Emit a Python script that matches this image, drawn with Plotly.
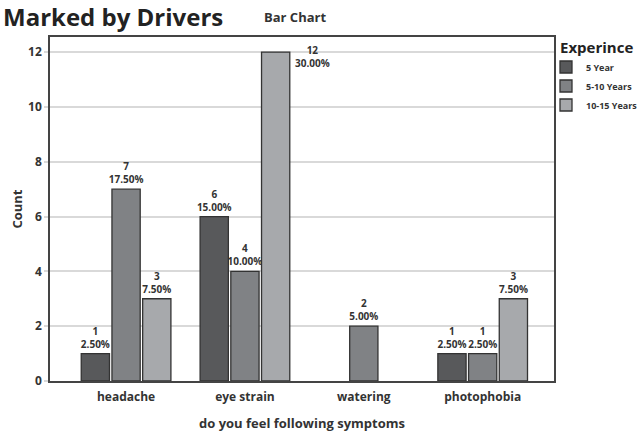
import plotly.graph_objects as go

categories = ["headache", "eye strain", "watering", "photophobia"]
series_names = ["5 Year", "5-10 Years", "10-15 Years"]
counts_5 = [1, 6, None, 1]
counts_5_10 = [7, 4, 2, 1]
counts_10_15 = [3, 12, None, 3]
pct_5 = ["2.50%", "15.00%", None, "2.50%"]
pct_5_10 = ["17.50%", "10.00%", "5.00%", "2.50%"]
pct_10_15 = ["7.50%", "30.00%", None, "7.50%"]
y_ticks = [0, 2, 4, 6, 8, 10, 12]

colors = ["#58595b", "#808285", "#a7a9ac"]
FONT = "Open Sans"

all_counts = [counts_5, counts_5_10, counts_10_15]
all_pcts = [pct_5, pct_5_10, pct_10_15]

fig = go.Figure()
annotations = []
for name, cnts, pcts, col in zip(series_names, all_counts, all_pcts, colors):
    texts = []
    for c, p, cat in zip(cnts, pcts, categories):
        if c is None:
            texts.append("")
        elif c > 11:
            texts.append("")
            annotations.append(dict(
                xref="x", yref="y", x=cat, y=c, xshift=48, yshift=-4,
                xanchor="left", yanchor="middle", showarrow=False,
                text=f"{c}<br>{p}", align="center",
                font=dict(family=FONT, size=10, color="#333333", weight="bold")))
        else:
            texts.append(f"{c}<br>{p}")
    fig.add_trace(go.Bar(
        name=name, x=categories, y=cnts, text=texts,
        textposition="outside", constraintext="none", cliponaxis=False,
        textfont=dict(family=FONT, size=10, color="#333333", weight="bold"),
        marker=dict(color=col, line=dict(color="#333333", width=1.3)),
    ))

annotations += [
    dict(xref="paper", yref="paper", x=-49/504, y=1 + 21/344, xanchor="left", yanchor="middle",
         text="Marked by Drivers", showarrow=False,
         font=dict(family=FONT, size=24, color="#222222", weight="bold")),
    dict(xref="paper", yref="paper", x=(262-50)/504, y=1 + 20/344, xanchor="left", yanchor="middle",
         text="Bar Chart", showarrow=False,
         font=dict(family=FONT, size=13, color="#333333", weight="bold")),
]

fig.update_layout(
    width=641, height=434,
    margin=dict(l=50, r=87, t=37, b=53, autoexpand=False),
    paper_bgcolor="white", plot_bgcolor="white",
    barmode="group", bargap=0.225, bargroupgap=0.08,
    showlegend=True,
    legend=dict(
        xref="container", yref="container",
        x=558/641, y=1 - 33/434, xanchor="left", yanchor="top",
        title=dict(text="Experince", font=dict(family=FONT, size=15, color="#222222", weight="bold")),
        font=dict(family=FONT, size=9, color="#333333", weight="bold"),
        bgcolor="rgba(0,0,0,0)", tracegroupgap=0, itemwidth=30, indentation=-12,
    ),
    annotations=annotations,
    xaxis=dict(
        range=[-0.64, 3.6], showgrid=False, showline=True, linecolor="#444444", linewidth=2,
        mirror=True, ticks="", automargin=False, ticklabelstandoff=4,
        tickfont=dict(family=FONT, size=12, color="#333333", weight="bold"),
        title=dict(text="do you feel following symptoms", standoff=14,
                   font=dict(family=FONT, size=13, color="#333333", weight="bold")),
    ),
    yaxis=dict(
        range=[0, 12.55], tickvals=y_ticks, showgrid=True, gridcolor="#d9d9d9", gridwidth=1.5,
        showline=True, linecolor="#444444", linewidth=1.5, mirror=True, automargin=False,
        ticks="outside", ticklen=4, tickcolor="#d9d9d9", tickwidth=1.5, zeroline=False,
        tickfont=dict(family=FONT, size=12, color="#333333", weight="bold"),
        title=dict(text="Count", standoff=3,
                   font=dict(family=FONT, size=13, color="#333333", weight="bold")),
    ),
)

fig.write_html("out.html", config={"displayModeBar": False},
               post_script="document.body.style.margin='0px';")
